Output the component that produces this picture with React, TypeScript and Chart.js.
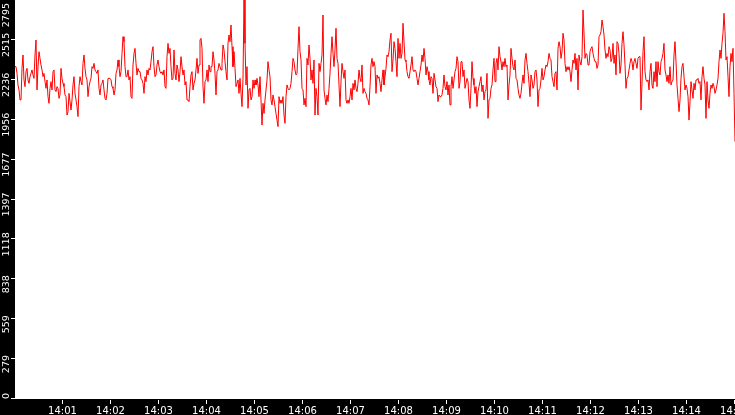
import React, { useEffect, useRef } from "react";
import { Chart, registerables } from "chart.js";

Chart.register(...registerables);

// ---- data ----
const startHour = 14;
const sampleStepSeconds = 1.25;

const signal: number[] = [
  2328, 2328, 2281, 2200, 2165, 2095, 2095, 2316, 2410, 2235,
  2188, 2293, 2316, 2235, 2211, 2258, 2281, 2305, 2270, 2246,
  2410, 2515, 2165, 2328, 2433, 2386, 2340, 2305, 2258, 2281,
  2223, 2176, 2235, 2118, 2071, 2176, 2223, 2165, 2293, 2305,
  2165, 2153, 2188, 2176, 2106, 2130, 2316, 2246, 2211, 2188,
  2130, 2118, 1989, 2013, 2141, 2083, 2024, 2095, 2200, 2258,
  2141, 2095, 2048, 1978, 2188, 2258, 2223, 2200, 2351, 2410,
  2316, 2258, 2235, 2118, 2188, 2223, 2246, 2328, 2316, 2351,
  2305, 2293, 2281, 2305, 2176, 2130, 2200, 2211, 2235, 2165,
  2106, 2095, 2141, 2246, 2246, 2246, 2235, 2188, 2176, 2130,
  2165, 2281, 2305, 2375, 2328, 2258, 2293, 2421, 2538, 2503,
  2328, 2258, 2258, 2305, 2235, 2258, 2118, 2106, 2340, 2421,
  2456, 2351, 2270, 2316, 2293,
  2293, 2246, 2235, 2211, 2141, 2258, 2223, 2305, 2270, 2316,
  2305, 2363, 2433, 2468, 2328, 2258, 2270, 2340, 2375, 2328,
  2293, 2281, 2293, 2270, 2305, 2188, 2176, 2398, 2491, 2421,
  2456, 2328, 2235, 2246, 2445, 2281, 2235, 2340, 2305, 2223,
  2293, 2398, 2328, 2270, 2305, 2200, 2223, 2095, 2095, 2083,
  2188, 2270, 2293, 2165, 2211, 2235, 2305, 2386, 2281, 2340,
  2515, 2526, 2456, 2188, 2071, 2223, 2235, 2305, 2223, 2340,
  2293, 2328, 2328, 2433, 2375, 2281, 2130, 2293, 2305, 2351,
  2328, 2305, 2351, 2480, 2445, 2363, 2293, 2235, 2491, 2550,
  2503, 2620, 2468, 2328, 2433, 2316, 2188, 2211, 2235, 2141,
  2246, 2141, 2048, 2246, 2795, 2491, 2200, 2328, 2036, 2165,
  2176, 2095, 2118, 2235, 2176, 2235, 2200, 2246, 2200, 2118,
  2258,
  2095, 1919, 2071, 2001, 2095, 2165, 2235, 2363, 2305, 2258,
  2095, 2060, 2130, 2095, 2048, 2001, 1954, 1908, 2118, 2071,
  2095, 2071, 2118, 1989, 1931, 2118, 2200, 2176, 2165, 2176,
  2211, 2293, 2386, 2363, 2305, 2270, 2281, 2456, 2608, 2433,
  2375, 2176, 2165, 2060, 2106, 2048, 2386, 2340, 2480, 2386,
  2235, 2305, 2211, 2375, 1989, 2176, 2118, 1989, 2351, 2293,
  2351, 2410, 2690, 2165, 2106, 2060, 2130, 2083, 2176, 2281,
  2421, 2538, 2421, 2328, 2445, 2597, 2386, 2351, 2200, 2048,
  2223, 2351, 2293, 2246, 2305, 2095, 2071, 2095, 2071, 2118,
  2176, 2095, 2211, 2165, 2235, 2176, 2153, 2211, 2305, 2246,
  2223, 2340, 2141, 2176, 2153, 2141, 2106, 2095, 2060, 2188,
  2340, 2386, 2328, 2363, 2328, 2141, 2270, 2246, 2258,
  2211, 2153, 2235, 2305, 2200, 2258, 2316, 2410, 2398, 2433,
  2515, 2562, 2293, 2375, 2503, 2456, 2363, 2258, 2526, 2386,
  2491, 2386, 2421, 2632, 2503, 2375, 2363, 2293, 2258, 2246,
  2293, 2340, 2398, 2305, 2293, 2305, 2293, 2246, 2200, 2246,
  2293, 2340, 2410, 2363, 2456, 2386, 2270, 2328, 2293, 2235,
  2200, 2258, 2246, 2141, 2281, 2235, 2188, 2176, 2083, 2130,
  2118, 2118, 2130, 2176, 2270, 2188, 2165, 2223, 2130, 2200,
  2060, 2188, 2258, 2176, 2235, 2293, 2316, 2398, 2363, 2176,
  2223, 2363, 2363, 2258, 2305, 2176, 2211, 2246, 2223, 2095,
  2036, 2176, 2363, 2246, 2200, 2141, 2188, 2048, 2153, 2188,
  2223, 2258, 2153, 2200, 2095, 2153, 2165, 2281, 1966, 2095,
  2106, 2176, 2200, 2305, 2386, 2223, 2351, 2386, 2305, 2468,
  2398, 2363, 2305, 2363, 2328, 2386, 2328, 2340, 2095, 2200,
  2270, 2456, 2386, 2328, 2305, 2375, 2246, 2235, 2176, 2130,
  2106, 2141, 2211, 2270, 2211, 2375, 2421, 2351, 2293, 2211,
  2118, 2270, 2235, 2176, 2200, 2293, 2305, 2235, 2048, 2165,
  2176, 2235, 2316, 2235, 2258, 2305, 2340, 2328, 2363, 2421,
  2386, 2375, 2258, 2223, 2188, 2281, 2293, 2165, 2456, 2503,
  2468, 2386, 2433, 2562, 2515, 2351, 2293, 2328, 2305, 2328,
  2293, 2223, 2305, 2375, 2351, 2421, 2305, 2386, 2165, 2410,
  2363, 2340, 2398, 2725, 2562, 2386, 2421, 2410, 2340, 2340,
  2433, 2456, 2468, 2421, 2386, 2363, 2363, 2316, 2340, 2538,
  2550, 2573, 2655, 2608, 2550, 2445, 2386, 2421, 2398, 2468,
  2445, 2363, 2386, 2491, 2351, 2410, 2270, 2503, 2491, 2421,
  2281, 2340, 2491, 2573, 2480, 2340, 2176, 2246, 2258, 2305,
  2351, 2386, 2363, 2305, 2363, 2386, 2351, 2316, 2386, 2398,
  2398, 2024, 2211, 2433, 2538, 2293, 2235, 2223, 2235, 2165,
  2293, 2351, 2200, 2176, 2293, 2223, 2363, 2188, 2363, 2293,
  2270, 2363, 2386, 2421, 2491, 2305, 2270, 2223, 2270, 2211,
  2328, 2200, 2223, 2235, 2410, 2503, 2363, 2200, 2106, 2013,
  2095, 2246, 2328, 2351, 2258, 2165, 2200, 2176, 2118, 1954,
  2083, 2223, 2165, 2106, 2211, 2165, 2235, 2235, 2246, 2211,
  2223, 2095, 2258, 2328, 2246, 2200, 1966, 2223, 2095, 2036,
  2141, 2200, 2176, 2211, 2188, 2141, 2165, 2200, 2246, 2363,
  2445, 2386, 2491, 2562, 2702, 2573, 2375, 2398, 2258, 2118,
  2328, 2421, 2363, 2456, 2141, 1803,
];

const yTickLabels = ["0", "279", "559", "838", "1118", "1397", "1677", "1956", "2236", "2515", "2795"];
const yTickStep = 279.5;
const yMax = 2795;

const xTickLabels = [
  "14:01", "14:02", "14:03", "14:04", "14:05", "14:06", "14:07",
  "14:08", "14:09", "14:10", "14:11", "14:12", "14:13", "14:14", "14:15",
];
const xMaxSeconds = 900;

// ---- styles ----
const lineColor = "#ff0000";
const stripColor = "#000000";
const plotColor = "#ffffff";
const textColor = "#ffffff";
const xFont = '10px "DejaVu Sans"';
const yFont = '9.5px "DejaVu Sans"';
const leftStrip = 15;
const bottomStrip = 16;

const labelToSeconds = (lbl: string) => {
  const [h, m] = lbl.split(":").map(Number);
  return ((h - startHour) * 60 + m) * 60;
};

const stripPlugin = {
  id: "strips",
  beforeDraw(chart: any) {
    const { ctx, width, height, chartArea } = chart;
    ctx.save();
    ctx.fillStyle = stripColor;
    ctx.fillRect(0, 0, width, height);
    ctx.fillStyle = plotColor;
    ctx.fillRect(chartArea.left, chartArea.top, chartArea.right - chartArea.left, chartArea.bottom - chartArea.top);
    ctx.restore();
  },
  afterDraw(chart: any) {
    const { ctx, chartArea, height } = chart;
    const xs = chart.scales.x;
    const ys = chart.scales.y;
    ctx.save();
    ctx.fillStyle = stripColor;
    ctx.fillRect(0, chartArea.bottom, chart.width, height - chartArea.bottom);
    ctx.strokeStyle = textColor;
    ctx.fillStyle = textColor;
    ctx.lineWidth = 1;

    // x ticks + labels
    ctx.font = xFont;
    ctx.textAlign = "center";
    ctx.textBaseline = "alphabetic";
    xTickLabels.forEach((lbl) => {
      const px = Math.round(xs.getPixelForValue(labelToSeconds(lbl))) - 0.5;
      ctx.beginPath();
      ctx.moveTo(px, chartArea.bottom + 1);
      ctx.lineTo(px, chartArea.bottom + 5);
      ctx.stroke();
      ctx.fillText(lbl, px, chartArea.bottom + 15);
    });

    // y ticks + rotated labels
    ctx.font = yFont;
    ctx.textAlign = "center";
    ctx.textBaseline = "middle";
    yTickLabels.forEach((lbl, i) => {
      const py = ys.getPixelForValue(i * yTickStep);
      const ly = Math.round(py) - 0.5;
      ctx.beginPath();
      ctx.moveTo(chartArea.left - 4, ly);
      ctx.lineTo(chartArea.left, ly);
      ctx.stroke();
      const half = ctx.measureText(lbl).width / 2;
      let cy = py + 5;
      cy = Math.max(cy, chartArea.top + half + 3);
      cy = Math.min(cy, chartArea.bottom - half);
      ctx.save();
      ctx.translate(7, cy);
      ctx.rotate(-Math.PI / 2);
      ctx.fillText(lbl, 0, 0);
      ctx.restore();
    });
    ctx.restore();
  },
};

export default function App() {
  const ref = useRef<HTMLCanvasElement>(null);

  useEffect(() => {
    document.body.style.margin = "0";
    const canvas = ref.current;
    if (!canvas) return;
    const points = signal.map((v, i) => ({ x: i * sampleStepSeconds, y: v }));
    const chart = new Chart(canvas, {
      type: "line",
      data: {
        datasets: [
          {
            data: points,
            borderColor: lineColor,
            borderWidth: 1,
            pointRadius: 0,
            tension: 0,
            fill: false,
          },
        ],
      },
      options: {
        responsive: false,
        animation: false,
        events: [],
        layout: { padding: 0 },
        plugins: { legend: { display: false }, tooltip: { enabled: false } },
        scales: {
          x: {
            type: "linear",
            min: 0,
            max: xMaxSeconds,
            ticks: { display: false },
            grid: { display: false, drawTicks: false },
            border: { display: false },
            afterFit: (s: any) => {
              s.height = bottomStrip;
            },
          },
          y: {
            type: "linear",
            min: 0,
            max: yMax,
            ticks: { display: false },
            grid: { display: false, drawTicks: false },
            border: { display: false },
            afterFit: (s: any) => {
              s.width = leftStrip;
            },
          },
        },
      },
      plugins: [stripPlugin],
    });
    return () => chart.destroy();
  }, []);

  return (
    <div style={{ width: 735, height: 415 }}>
      <canvas ref={ref} width={735} height={415} style={{ display: "block" }} />
    </div>
  );
}
